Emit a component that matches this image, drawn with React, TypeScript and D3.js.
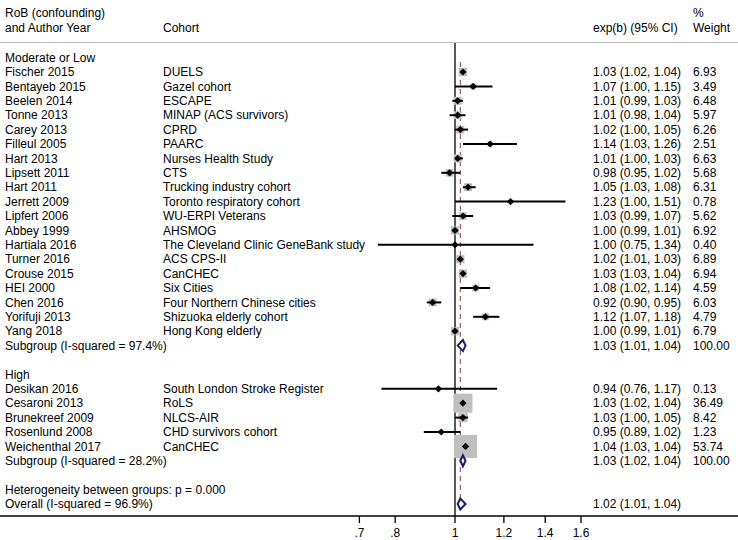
import React from "react";
import * as d3 from "d3";

const modAuthors = ["Fischer 2015","Bentayeb 2015","Beelen 2014","Tonne 2013","Carey 2013","Filleul 2005","Hart 2013","Lipsett 2011","Hart 2011","Jerrett 2009","Lipfert 2006","Abbey 1999","Hartiala 2016","Turner 2016","Crouse 2015","HEI 2000","Chen 2016","Yorifuji 2013","Yang 2018"];
const modCohorts = ["DUELS","Gazel cohort","ESCAPE","MINAP (ACS survivors)","CPRD","PAARC","Nurses Health Study","CTS","Trucking industry cohort","Toronto respiratory cohort","WU-ERPI Veterans","AHSMOG","The Cleveland Clinic GeneBank study","ACS CPS-II","CanCHEC","Six Cities","Four Northern Chinese cities","Shizuoka elderly cohort","Hong Kong elderly"];
const modEst = [1.03,1.07,1.01,1.01,1.02,1.14,1.01,0.98,1.05,1.23,1.03,1.00,1.00,1.02,1.03,1.08,0.92,1.12,1.00];
const modLo = [1.02,1.00,0.99,0.98,1.00,1.03,1.00,0.95,1.03,1.00,0.99,0.99,0.75,1.01,1.03,1.02,0.90,1.07,0.99];
const modHi = [1.04,1.15,1.03,1.04,1.05,1.26,1.03,1.02,1.08,1.51,1.07,1.01,1.34,1.03,1.04,1.14,0.95,1.18,1.01];
const modWeight = ["6.93","3.49","6.48","5.97","6.26","2.51","6.63","5.68","6.31","0.78","5.62","6.92","0.40","6.89","6.94","4.59","6.03","4.79","6.79"];

const highAuthors = ["Desikan 2016","Cesaroni 2013","Brunekreef 2009","Rosenlund 2008","Weichenthal 2017"];
const highCohorts = ["South London Stroke Register","RoLS","NLCS-AIR","CHD survivors cohort","CanCHEC"];
const highEst = [0.94,1.03,1.03,0.95,1.04];
const highLo = [0.76,1.02,1.00,0.89,1.03];
const highHi = [1.17,1.04,1.05,1.02,1.04];
const highWeight = ["0.13","36.49","8.42","1.23","53.74"];

const subLabels = ["Subgroup (I-squared = 97.4%)","Subgroup (I-squared = 28.2%)"];
const subEst = [1.03,1.03];
const subLo = [1.01,1.02];
const subHi = [1.04,1.04];

const overallLabel = "Overall (I-squared = 96.9%)";
const overallEst = 1.02, overallLo = 1.01, overallHi = 1.04;
const heteroLabel = "Heterogeneity between groups: p = 0.000";

const tickValues = [0.7,0.8,1,1.2,1.4,1.6];
const tickLabels = [".7",".8","1","1.2","1.4","1.6"];

const W = 738, H = 540;
const FONT = "'Liberation Sans', Arial, Helvetica, sans-serif";
const FS = 12;
const y0 = 57.6, dy = 14.4;
const rowY = (i: number) => y0 + i * dy;
const fmt = (v: number) => v.toFixed(2);
const ciText = (e: number, l: number, h: number) => `${fmt(e)} (${fmt(l)}, ${fmt(h)})`;

export default function App() {
  const x = d3.scaleLog().domain([0.7, 1.6]).range([359.4, 581]);
  const axisY = 516;
  const colA = 5, colC = 163, colCI = 593, colW = 693;
  const boxK = 3.15;
  const navy = "#1c1c6e";

  type Row = { a: string; c: string; e: number; l: number; h: number; w: string; i: number };
  const rows: Row[] = [];
  modAuthors.forEach((a, k) => rows.push({ a, c: modCohorts[k], e: modEst[k], l: modLo[k], h: modHi[k], w: modWeight[k], i: 1 + k }));
  const sub1 = 1 + modAuthors.length;
  const high0 = sub1 + 2;
  highAuthors.forEach((a, k) => rows.push({ a, c: highCohorts[k], e: highEst[k], l: highLo[k], h: highHi[k], w: highWeight[k], i: high0 + 1 + k }));
  const sub2 = high0 + 1 + highAuthors.length;
  const heteroI = sub2 + 2;
  const overallI = heteroI + 1;

  const diamond = (e: number, l: number, h: number, cy: number, key: string) => {
    const hh = 5.5;
    const pts = [[x(l), cy], [x(e), cy - hh], [x(h), cy], [x(e), cy + hh]].map(p => p.join(",")).join(" ");
    return <polygon key={key} points={pts} fill="white" stroke={navy} strokeWidth={2} strokeLinejoin="miter" />;
  };

  const textProps = { fontFamily: FONT, fontSize: FS, fill: "#000" } as const;
  const T = (s: string, tx: number, cy: number, key: string) => (
    <text key={key} x={tx} y={cy + 4.2} {...textProps}>{s}</text>
  );

  return (
    <svg width={W} height={H} style={{ position: "absolute", left: 0, top: 0, background: "white" }}>
      <rect x={0} y={0} width={W} height={H} fill="white" />
      {/* header */}
      {T("RoB (confounding)", colA, 13, "h1")}
      {T("and Author Year", colA, 28, "h2")}
      {T("Cohort", colC, 28, "h3")}
      {T("exp(b) (95% CI)", colCI, 28, "h4")}
      {T("%", colW, 13, "h5")}
      {T("Weight", colW, 28, "h6")}
      <line x1={0} x2={W} y1={42.5} y2={42.5} stroke="#bdbdbd" strokeWidth={1.2} />

      {/* null line */}
      <line x1={x(1)} x2={x(1)} y1={43} y2={axisY} stroke="#000" strokeWidth={1.3} />
      {/* overall dashed line */}
      <line x1={x(overallEst)} x2={x(overallEst)} y1={62} y2={511} stroke="#8b3a3a" strokeWidth={1} strokeDasharray="5,4" />

      {T("Moderate or Low", colA, rowY(0), "g1")}
      {T("High", colA, rowY(high0), "g2")}

      {/* boxes */}
      {rows.map((r, k) => {
        const s = boxK * Math.sqrt(parseFloat(r.w));
        return <rect key={"b" + k} x={x(r.e) - s / 2} y={rowY(r.i) - s / 2} width={s} height={s} fill="#bfbfbf" />;
      })}
      {/* CIs and points */}
      {rows.map((r, k) => {
        const cy = rowY(r.i), cx = x(r.e), d = 3.6;
        return (
          <g key={"r" + k}>
            <line x1={x(r.l)} x2={x(r.h)} y1={cy} y2={cy} stroke="#000" strokeWidth={2} />
            <polygon points={`${cx - d},${cy} ${cx},${cy - d} ${cx + d},${cy} ${cx},${cy + d}`} fill="#000" />
            {T(r.a, colA, cy, "a" + k)}
            {T(r.c, colC, cy, "c" + k)}
            {T(ciText(r.e, r.l, r.h), colCI, cy, "ci" + k)}
            {T(r.w, colW, cy, "w" + k)}
          </g>
        );
      })}

      {/* subgroups */}
      {[sub1, sub2].map((si, k) => (
        <g key={"s" + k}>
          {diamond(subEst[k], subLo[k], subHi[k], rowY(si), "sd" + k)}
          {T(subLabels[k], colA, rowY(si), "sl" + k)}
          {T(ciText(subEst[k], subLo[k], subHi[k]), colCI, rowY(si), "sc" + k)}
          {T("100.00", colW, rowY(si), "sw" + k)}
        </g>
      ))}

      {T(heteroLabel, colA, rowY(heteroI), "het")}
      {diamond(overallEst, overallLo, overallHi, rowY(overallI), "od")}
      {T(overallLabel, colA, rowY(overallI), "ol")}
      {T(ciText(overallEst, overallLo, overallHi), colCI, rowY(overallI), "oc")}

      {/* axis */}
      <line x1={0} x2={W} y1={axisY} y2={axisY} stroke="#000" strokeWidth={1.3} />
      {tickValues.map((v, k) => (
        <g key={"t" + k}>
          <line x1={x(v)} x2={x(v)} y1={axisY} y2={axisY + 7} stroke="#000" strokeWidth={1.3} />
          <text x={x(v)} y={axisY + 21} textAnchor="middle" {...textProps}>{tickLabels[k]}</text>
        </g>
      ))}
    </svg>
  );
}
